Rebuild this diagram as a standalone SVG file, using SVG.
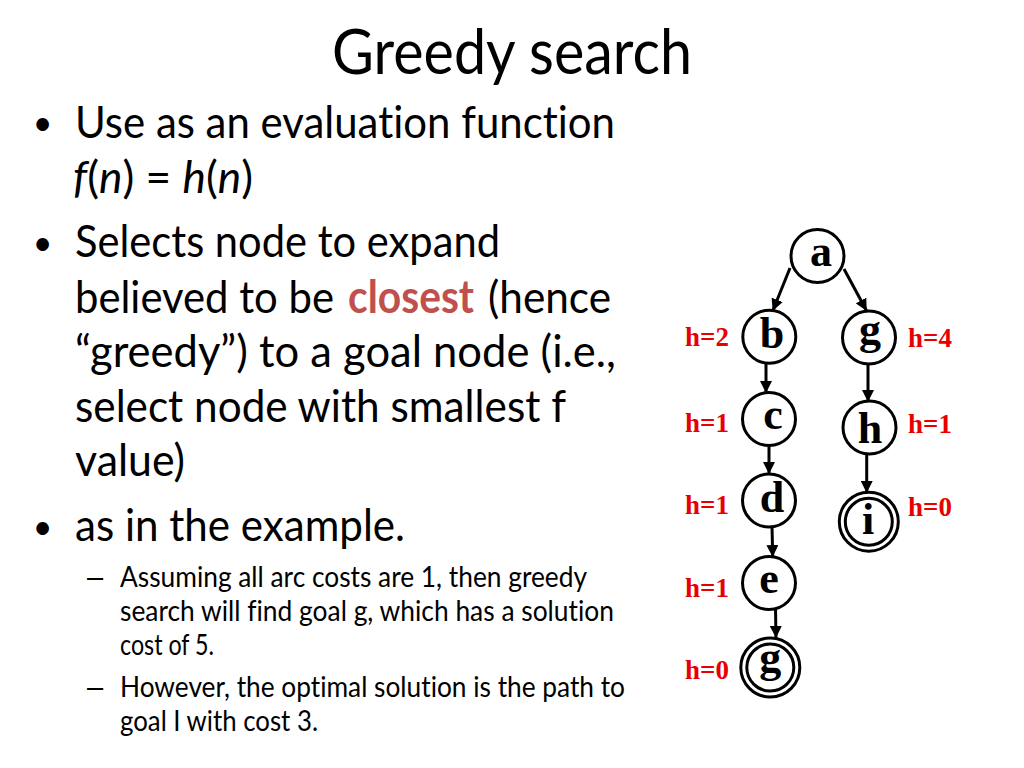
<svg xmlns="http://www.w3.org/2000/svg" width="1024" height="768" viewBox="0 0 1024 768">
<defs>
<style>
.t{font-family:Lato,"Open Sans","Liberation Sans",sans-serif;fill:#000;font-variant-ligatures:none}
.title{font-size:61px}
.main{font-size:45px}
.bul{font-size:34px}
.sub{font-size:29px}
.dash{font-family:"Liberation Sans",Arial,sans-serif;font-size:29px;fill:#000}
.hl{fill:#C0504D;font-weight:bold}
.n{fill:#fff;stroke:#000;stroke-width:3}
.nl{font-family:"Liberation Serif","Times New Roman",serif;font-weight:bold;font-size:44px;fill:#000;text-anchor:middle}
.h{font-family:"Liberation Serif","Times New Roman",serif;font-weight:bold;font-size:27px;fill:#E80000}
.e{stroke:#000;stroke-width:3;fill:none;marker-end:url(#ah)}
</style>
<marker id="ah" markerUnits="userSpaceOnUse" markerWidth="12" markerHeight="12" refX="10" refY="5" orient="auto" viewBox="0 0 10 10">
<path d="M0,0 L10,5 L0,10 z" fill="#000"/>
</marker>
</defs>
<rect width="1024" height="768" fill="#fff"/>

<g id="text">
<text class="t title" x="332" y="73.5" textLength="360" lengthAdjust="spacingAndGlyphs">Greedy search</text>
<text class="t bul" x="42.5" y="135" text-anchor="middle">•</text>
<text class="t main" x="75" y="137.5" textLength="540" lengthAdjust="spacingAndGlyphs">Use as an evaluation function</text>
<text class="t main" x="73" y="192.5" textLength="180" lengthAdjust="spacingAndGlyphs"><tspan font-style="italic">f</tspan>(<tspan font-style="italic">n</tspan>) = <tspan font-style="italic">h</tspan>(<tspan font-style="italic">n</tspan>)</text>
<text class="t bul" x="42.5" y="254.5" text-anchor="middle">•</text>
<text class="t main" x="75" y="257" textLength="425" lengthAdjust="spacingAndGlyphs">Selects node to expand</text>
<text class="t main" x="75" y="313" textLength="259" lengthAdjust="spacingAndGlyphs">believed to be</text>
<text class="t main hl" x="348" y="313" textLength="126" lengthAdjust="spacingAndGlyphs">closest</text>
<text class="t main" x="488" y="313" textLength="123" lengthAdjust="spacingAndGlyphs">(hence</text>
<text class="t main" x="75" y="367" textLength="541" lengthAdjust="spacingAndGlyphs">“greedy”) to a goal node (i.e.,</text>
<text class="t main" x="75" y="422" textLength="491" lengthAdjust="spacingAndGlyphs">select node with smallest f</text>
<text class="t main" x="75" y="476" textLength="110" lengthAdjust="spacingAndGlyphs">value)</text>
<text class="t bul" x="42.5" y="538.5" text-anchor="middle">•</text>
<text class="t main" x="75" y="541" textLength="330" lengthAdjust="spacingAndGlyphs">as in the example.</text>
<text class="dash" x="87" y="586.5">–</text>
<text class="t sub" x="120" y="586.5" textLength="467" lengthAdjust="spacingAndGlyphs">Assuming all arc costs are 1, then greedy</text>
<text class="t sub" x="120" y="621" textLength="494" lengthAdjust="spacingAndGlyphs">search will find goal g, which has a solution</text>
<text class="t sub" x="120" y="655" textLength="94" lengthAdjust="spacingAndGlyphs">cost of 5.</text>
<text class="dash" x="87" y="696.5">–</text>
<text class="t sub" x="120" y="696.5" textLength="505" lengthAdjust="spacingAndGlyphs">However, the optimal solution is the path to</text>
<text class="t sub" x="120" y="731" textLength="198" lengthAdjust="spacingAndGlyphs">goal I with cost 3.</text>
</g>

<g id="connectors">
<line class="e" x1="790" y1="268" x2="772.7" y2="311"/>
<line class="e" x1="844" y1="269" x2="866.7" y2="311"/>
<line class="e" x1="766" y1="350" x2="766" y2="393"/>
<line class="e" x1="868" y1="360" x2="868" y2="402"/>
<line class="e" x1="769" y1="430" x2="769" y2="474"/>
<line class="e" x1="866.7" y1="453" x2="866.7" y2="493"/>
<line class="e" x1="771.7" y1="513" x2="772.7" y2="557"/>
<line class="e" x1="775.3" y1="595" x2="776" y2="638"/>
</g>

<g id="node-a"><circle class="n" cx="817.5" cy="256" r="26.5"/><text class="nl" x="821" y="265.7">a</text></g>
<g id="node-b"><circle class="n" cx="769.3" cy="336.7" r="26.5"/><text class="nl" x="772" y="348">b</text><text class="h" x="685" y="346">h=2</text></g>
<g id="node-g1"><circle class="n" cx="869" cy="337.5" r="26.5"/><text class="nl" x="870" y="344">g</text><text class="h" x="908" y="347">h=4</text></g>
<g id="node-c"><circle class="n" cx="769" cy="419" r="26.5"/><text class="nl" x="773" y="429">c</text><text class="h" x="685" y="432">h=1</text></g>
<g id="node-h"><circle class="n" cx="869.5" cy="427.5" r="26.5"/><text class="nl" x="870" y="442.7">h</text><text class="h" x="908" y="433">h=1</text></g>
<g id="node-d"><circle class="n" cx="769" cy="500.5" r="26.5"/><text class="nl" x="772" y="511.7">d</text><text class="h" x="685" y="514">h=1</text></g>
<g id="node-i"><circle class="n" cx="868.8" cy="521.7" r="29.5"/><circle class="n" cx="868.8" cy="521.7" r="23.5" stroke-width="2.5"/><text class="nl" x="868" y="534">i</text><text class="h" x="908" y="516">h=0</text></g>
<g id="node-e"><circle class="n" cx="769" cy="583" r="26.5"/><text class="nl" x="769" y="593.3">e</text><text class="h" x="685" y="597">h=1</text></g>
<g id="node-g2"><circle class="n" cx="770.3" cy="667.5" r="29.5"/><circle class="n" cx="770.3" cy="667.5" r="23.5" stroke-width="2.5"/><text class="nl" x="770.3" y="672">g</text><text class="h" x="685" y="679">h=0</text></g>
</svg>
